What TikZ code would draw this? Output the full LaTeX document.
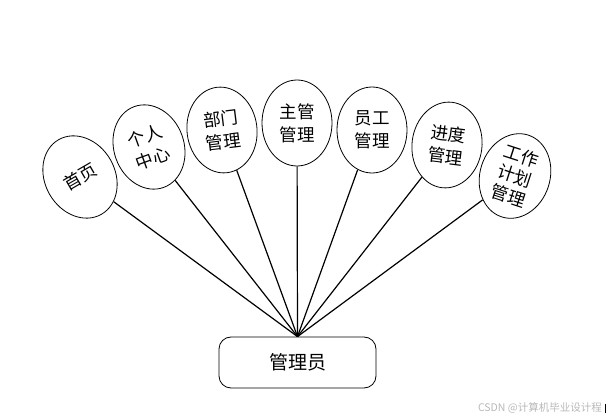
\documentclass[tikz,border=0pt]{standalone}
\usepackage{fontspec}
\newfontfamily\cjk{Noto Sans CJK SC}
\usetikzlibrary{shapes.geometric}
\tikzset{
  bubble/.style={draw=black, line width=0.8pt, ellipse, inner sep=0pt, minimum width=70pt, minimum height=86pt,
    font=\cjk\fontsize{17.5}{23}\selectfont, align=center},
  link/.style={draw=black, line width=1.2pt},
  rootbox/.style={draw=black, line width=0.8pt, rounded corners=12pt, minimum width=157pt, minimum height=51pt, font=\cjk\fontsize{19}{22}\selectfont, inner sep=0pt}
}
\begin{document}
\begin{tikzpicture}[x=1pt,y=-1pt]
\useasboundingbox (0,0) rectangle (608,419);
\node[rootbox] (root) at (297.5,362.5) {管理员};
\node[bubble, rotate=30] (e1) at (80,177) {首页};
\node[bubble, rotate=20] (e2) at (149,147) {个人\\中心};
\node[bubble, rotate=7] (e3) at (222,130) {部门\\管理};
\node[bubble] (e4) at (297,123) {主管\\管理};
\node[bubble] (e5) at (372,130) {员工\\管理};
\node[bubble, rotate=-7] (e6) at (447,145) {进度\\管理};
\node[bubble, rotate=-18, font=\cjk\fontsize{17.5}{21}\selectfont] (e7) at (515,176) {工作\\计划\\管理};
\foreach \i in {1,...,7} \draw[link] (root.north) -- (e\i);
\node[font=\cjk\fontsize{10.5}{12}\selectfont, text=black!28, anchor=east, inner sep=0pt] (wm) at (602,408) {CSDN @计算机毕业设计程};
\coordinate (m1) at (605.5,404);
\coordinate (m2) at (605.5,413);
\draw[black, line width=1pt] (m1) -- (m2);
\end{tikzpicture}
\end{document}
